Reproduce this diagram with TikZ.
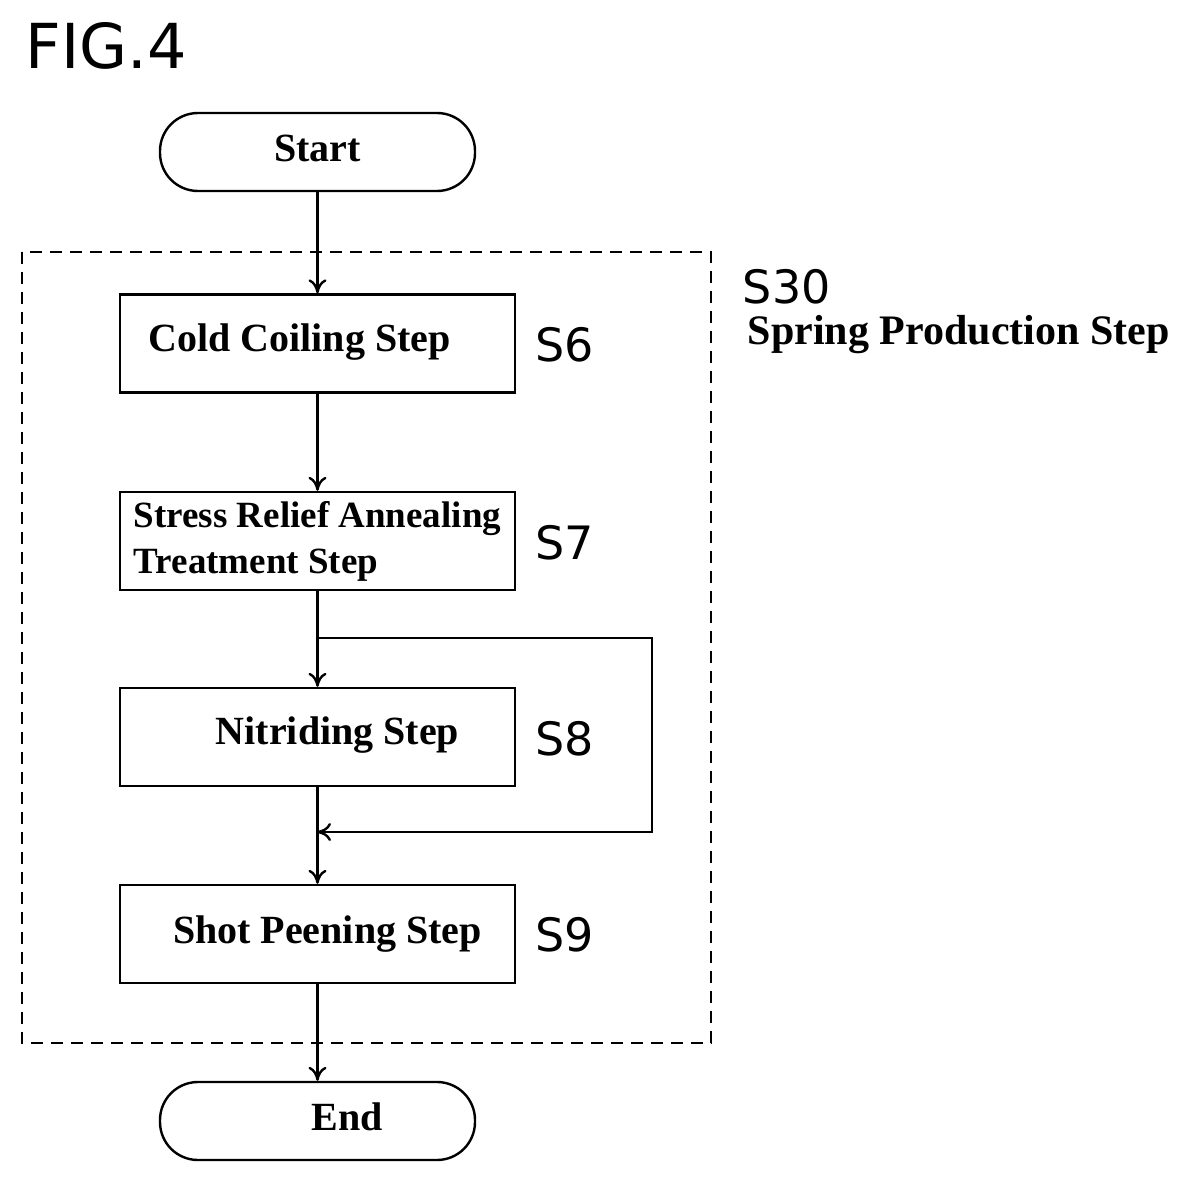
\documentclass[tikz,border=0pt]{standalone}
\usepackage{fontspec}
\setmainfont{Liberation Serif}
\newfontfamily\labelfont{DejaVu Sans}
\usetikzlibrary{arrows.meta}
\tikzset{every picture/.style={line width=1.2pt}}
\tikzset{
  stepbox/.style={draw,minimum width=197.5pt,minimum height=49pt,inner sep=0pt},
  termbox/.style={draw,rounded corners=19pt,minimum width=157.5pt,minimum height=39pt,inner sep=0pt},
  steptext/.style={font=\fontsize{20}{22}\selectfont\bfseries},
  slabel/.style={font=\labelfont\fontsize{23}{25}\selectfont,anchor=center},
  flow/.style={-{To[length=7pt,width=9pt]}}
}
\begin{document}
\begin{tikzpicture}[x=0.5pt,y=0.5pt,yscale=-1]
\useasboundingbox (0,0) rectangle (1195,1183);

% Title
\node [anchor=west,font=\labelfont\fontsize{31}{33}\selectfont] (fig) at (18,46) {FIG.4};

% Terminals
\node [termbox,steptext] (start) at (317.5,152) {\raisebox{4pt}{Start}};
\node [termbox,steptext] (end) at (317.5,1121) {\raisebox{4pt}{\hspace*{30pt}End}};

% Steps
\node [stepbox,steptext] (s6) at (317.5,343.5) {\raisebox{6pt}{\hspace*{-18pt}Cold Coiling Step}};
\node [stepbox,font=\fontsize{18.5}{23}\selectfont\bfseries,align=left] (s7) at (317.5,541) {Stress Relief Annealing\\Treatment Step};
\node [stepbox,steptext] (s8) at (317.5,737) {\raisebox{6pt}{\hspace*{20pt}Nitriding Step}};
\node [stepbox,steptext] (s9) at (317.5,934) {\hspace*{10pt}Shot Peening Step};

% Step labels
\node [slabel] (l6) at (565,345) {S6};
\node [slabel] (l7) at (565,543) {S7};
\node [slabel] (l8) at (565,739) {S8};
\node [slabel] (l9) at (565,935) {S9};

% Dashed frame
\draw [dashed,dash pattern=on 6pt off 4pt] (22,252) rectangle (711,1043);
\node [anchor=west,font=\labelfont\fontsize{23}{25}\selectfont] (s30) at (735,287) {S30};
\node [anchor=west,steptext,font=\fontsize{21}{23}\selectfont\bfseries] (s30t) at (740,335) {Spring Production Step};

% Connectors
\coordinate (split) at (317,638);
\coordinate (join) at (317,832);
\draw [flow] (start) -- (s6);
\draw [flow] (s6) -- (s7);
\draw [flow] (s7) -- (s8);
\draw [flow] (s8) -- (s9);
\draw [flow] (s9) -- (end);
\draw [flow] (split) -- (652,638) -- (652,832) -- (join);
\end{tikzpicture}
\end{document}
